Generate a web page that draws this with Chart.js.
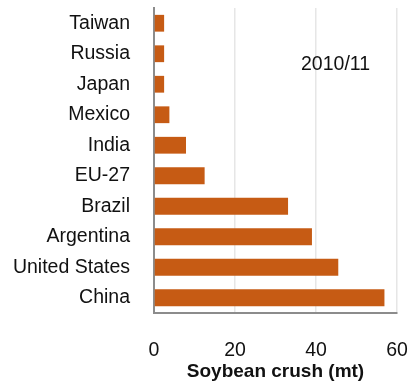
<!DOCTYPE html>
<html>
<head>
<meta charset="utf-8">
<script src="https://cdn.jsdelivr.net/npm/chart.js@4/dist/chart.umd.min.js"></script>
<style>
html,body{margin:0;padding:0;background:#fff;}
#wrap{width:408px;height:385px;}
</style>
</head>
<body>
<div id="wrap"><canvas id="c" width="408" height="385"></canvas></div>
<script>
const countries = ["Taiwan","Russia","Japan","Mexico","India","EU-27","Brazil","Argentina","United States","China"];
const crush = [2.5, 2.5, 2.5, 3.8, 7.9, 12.5, 33.1, 39.0, 45.5, 56.9];
const xTicks = [0, 20, 40, 60];
const yearLabel = "2010/11";
const axisTitle = "Soybean crush (mt)";

const FONT = "'Liberation Sans', Arial, Helvetica, sans-serif";

const yearPlugin = {
  id: 'yearText',
  afterDraw(chart) {
    const ctx = chart.ctx, a = chart.chartArea;
    ctx.save();
    ctx.font = "19.5px " + FONT;
    ctx.fillStyle = "#111";
    ctx.textAlign = "left";
    ctx.textBaseline = "middle";
    ctx.fillText(yearLabel, a.left + 147, a.top + 57);
    ctx.restore();
  }
};

new Chart(document.getElementById('c'), {
  type: 'bar',
  data: {
    labels: countries,
    datasets: [{
      data: crush,
      backgroundColor: '#C65B14',
      borderWidth: 0,
      barPercentage: 0.55,
      categoryPercentage: 1.0
    }]
  },
  options: {
    indexAxis: 'y',
    responsive: false,
    animation: false,
    devicePixelRatio: 1,
    layout: { padding: { left: 0, right: 0, top: 8, bottom: 0 } },
    plugins: { legend: { display: false }, tooltip: { enabled: false } },
    scales: {
      x: {
        min: 0, max: 60,
        afterBuildTicks(scale) { scale.ticks = xTicks.map(v => ({ value: v })); },
        afterFit(scale) { scale.height = 72; scale.paddingRight = 11; scale.paddingLeft = 0; },
        grid: { color: '#e6e6e6', lineWidth: 1.5, drawTicks: false },
        border: { color: '#8c8c8c', width: 2 },
        ticks: { font: { family: FONT, size: 19.5 }, color: '#111', padding: 26, maxRotation: 0 },
        title: { display: true, text: axisTitle, font: { family: FONT, size: 19, weight: 'bold' }, color: '#111', padding: { top: 0, bottom: 2 } }
      },
      y: {
        afterFit(scale) { scale.width = 154; scale.paddingTop = 0; scale.paddingBottom = 0; },
        grid: { display: false, drawTicks: false },
        border: { color: '#8c8c8c', width: 2 },
        ticks: { font: { family: FONT, size: 19.5 }, color: '#111', padding: 24, autoSkip: false }
      }
    }
  },
  plugins: [yearPlugin]
});
</script>
</body>
</html>
